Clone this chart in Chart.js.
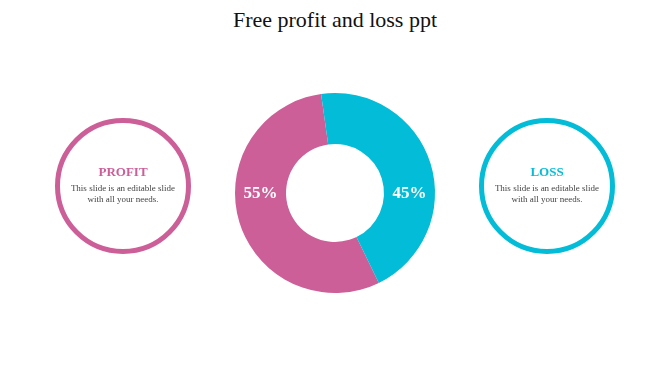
<!DOCTYPE html>
<html>
<head>
<meta charset="utf-8">
<script src="https://cdn.jsdelivr.net/npm/chart.js@4"></script>
<style>
  body { margin: 0; background: #fff; }
  #wrap { position: relative; width: 670px; height: 376px; overflow: hidden; font-family: "Liberation Serif", serif; }
  #title { position: absolute; top: 7px; left: 0; width: 670px; text-align: center; font-size: 22px; color: #111; }
  canvas { position: absolute; left: 0; top: 0; }
  .side { position: absolute; width: 126px; height: 126px; border-radius: 50%; border: 5px solid; text-align: center; box-sizing: content-box; }
  .side h3 { margin: 0; padding-top: 41px; font-size: 13px; font-weight: bold; }
  .side p { margin: 3px 0 0; font-size: 9px; line-height: 11px; color: #444; }
</style>
</head>
<body>
<div id="wrap">
  <div id="title">Free profit and loss ppt</div>
  <canvas id="doughnut" width="670" height="376"></canvas>
  <div class="side" id="left" style="left:55px;top:118px;border-color:#cc5f98;">
    <h3 style="color:#cc5f98">PROFIT</h3>
    <p>This slide is an editable slide<br>with all your needs.</p>
  </div>
  <div class="side" id="right" style="left:479px;top:118px;border-color:#03bcd7;">
    <h3 style="color:#03bcd7">LOSS</h3>
    <p>This slide is an editable slide<br>with all your needs.</p>
  </div>
</div>
<script>
const labels = ['Profit', 'Loss'];
const values = [55, 45];
const colors = ['#cc5f98', '#03bcd7'];

// percent text drawn at left / right of the ring
const ringLabels = {
  id: 'ringLabels',
  afterDatasetsDraw(chart) {
    const ctx = chart.ctx;
    const arc = chart.getDatasetMeta(0).data[0];
    const mid = (arc.innerRadius + arc.outerRadius) / 2;
    ctx.save();
    ctx.fillStyle = '#fff';
    ctx.font = 'bold 17px "Liberation Serif", serif';
    ctx.textAlign = 'center';
    ctx.textBaseline = 'middle';
    ctx.fillText(values[0] + '%', arc.x - mid, arc.y + 1);
    ctx.fillText(values[1] + '%', arc.x + mid, arc.y + 1);
    ctx.restore();
  }
};

const ctx2 = document.getElementById('doughnut').getContext('2d');
const doughnut = new Chart(ctx2, {
  type: 'doughnut',
  data: {
    labels: labels,
    datasets: [{
      data: values,
      backgroundColor: colors,
      borderWidth: 0
    }]
  },
  options: {
    responsive: false,
    animation: false,
    rotation: 154,
    cutout: '49%',
    layout: { padding: { top: 93, bottom: 83, left: 0, right: 0 } },
    plugins: {
      legend: { display: false },
      tooltip: { enabled: false }
    }
  },
  plugins: [ringLabels]
});
</script>
</body>
</html>
